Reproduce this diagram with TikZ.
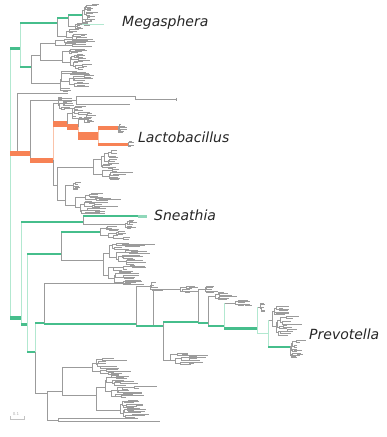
\documentclass[tikz,border=0pt]{standalone}
\usepackage{fontspec}
\setsansfont{DejaVu Sans}
\definecolor{tg}{RGB}{155,155,155}
\definecolor{gk}{RGB}{70,190,140}
\definecolor{gl}{RGB}{178,232,208}
\definecolor{ok}{RGB}{247,130,85}
\definecolor{ol}{RGB}{250,195,170}
\tikzset{
  br/.style={draw=tg,line width=0.5pt},
  lgv/.style={draw=gl,line width=0.8pt},
  olv/.style={draw=ol,line width=0.8pt},
  gkb/.style={draw=gk,line width=#1},
  gkb/.default=1.5pt,
  okb/.style={draw=ok,line width=#1},
  okb/.default=5pt,
  lab/.style={anchor=west,inner sep=0pt,text=black!85,font=\sffamily\itshape\fontsize{14}{16}\selectfont}
}
% random clade: #1 x of root, #2 top y, #3 bottom y, #4 depth, #5 branch scale
\newcommand\rclade[5]{%
  \begingroup
  \pgfmathsetmacro\rcH{#3-#2}%
  \def\rcLeaf{0}%
  \ifnum#4<1 \def\rcLeaf{1}\fi
  \ifdim\rcH pt<1.8pt \def\rcLeaf{1}\fi
  \if1\rcLeaf
    \pgfmathsetmacro\rcL{#5*(0.25+1.4*rnd*rnd)}%
    \pgfmathsetmacro\rcY{(#2+#3)/2}%
    \draw[br] (#1,\rcY) -- ++(\rcL,0);
  \else
    \pgfmathsetmacro\rcS{#2+\rcH*(0.2+0.6*rnd)}%
    \pgfmathsetmacro\rcYa{(#2+\rcS)/2}%
    \pgfmathsetmacro\rcYb{(\rcS+#3)/2}%
    \pgfmathsetmacro\rcXa{#1+#5*(0.05+1.0*rnd*rnd)}%
    \pgfmathsetmacro\rcXb{#1+#5*(0.05+1.0*rnd*rnd)}%
    \pgfmathtruncatemacro\rcD{#4-1}%
    \draw[br] (\rcXa,\rcYa) -| (#1,\rcYb) -- (\rcXb,\rcYb);
    \edef\rcNext{\noexpand\rclade{\rcXa}{#2}{\rcS}{\rcD}{#5}\noexpand\rclade{\rcXb}{\rcS}{#3}{\rcD}{#5}}%
    \rcNext
  \fi
  \endgroup
}
\begin{document}
\begin{tikzpicture}[x=1pt,y=-1pt]
\useasboundingbox (0,0) rectangle (387,437);
\pgfmathsetseed{11}
% ---------- top clade (Megasphera) ----------
\draw[lgv] (10,48) -- (10,318);
\draw[lgv] (20,23) -- (20,67);
\draw[br] (57,18) -- (57,36);
\draw[br] (68,15) -- (68,26);
\rclade{82}{4}{26}{5}{7}
\draw[br] (68,26) -- (75,26); \rclade{75}{23}{29}{3}{6}
\draw[br] (57,36) -- (66,36); \rclade{66}{29}{41}{4}{9}
\draw[gl,line width=1pt] (82,24) -- (104,24);
\draw[gkb=3pt] (10,48) -- (20,48);
\draw[gkb] (20,23) -- (57,23);
\draw[gkb] (57,18) -- (68,18);
\draw[gkb=2pt] (68,15) -- (82,15);
\draw[br] (31,55) -- (31,83);
\draw[br] (31,55) -- (40,55);
\draw[br] (40,43) -- (40,60);
\draw[br] (40,43) -- (55,43); \rclade{55}{38}{47}{3}{22}
\draw[br] (40,60) -- (62,60); \rclade{62}{48}{70}{5}{11}
\draw[br] (31,83) -- (60,83); \rclade{60}{71}{92}{5}{12}
\draw[gkb] (20,67) -- (31,67);
% ---------- between ----------
\draw[br] (17,93) -- (17,153);
\draw[br] (17,93) -- (68,93);
\draw[br] (30,100) -- (30,160);
\draw[br] (30,100) -- (76,100);
\draw[br] (76,96) -- (76,104);
\draw[br] (76,96) -- (135,96);
\draw[br] (135,96) -- (135,99) -- (176,99);
\draw[br] (176,97.5) -- (176,100.5);
\draw[br] (76,104) -- (130,104);
% ---------- Lactobacillus ----------
\draw[br] (53,103) -- (53,124);
\draw[br] (53,160) -- (53,185);
\draw[br] (53,103) -- (58,103); \rclade{58}{97}{110}{4}{8}
\draw[br] (67,113) -- (67,124);
\draw[br] (67,113) -- (72,113); \rclade{72}{106}{120}{4}{8}
\draw[br] (78,118) -- (78,127);
\draw[br] (78,118) -- (84,118); \rclade{84}{113}{123}{3}{6}
\rclade{118}{124}{133}{3}{6}
\rclade{128}{141}{147}{2}{5}
\draw[br] (53,185) -- (57,185);
\draw[br] (57,167) -- (57,200);
\draw[br] (57,167) -- (93,167); \rclade{93}{149}{180}{5}{11}
\draw[br] (57,200) -- (65,200);
\draw[br] (65,185) -- (65,205);
\draw[br] (65,185) -- (73,185); \rclade{73}{181}{190}{3}{6}
\draw[br] (65,205) -- (75,205); \rclade{75}{193}{214}{5}{15}
\draw[olv] (53,124) -- (53,160);
\draw[olv] (78,127) -- (78,136);
\draw[olv] (98,128) -- (98,144);
\draw[okb=5pt] (10,153) -- (30,153);
\draw[okb=5pt] (30,160) -- (53,160);
\draw[okb=6pt] (53,124) -- (67,124);
\draw[okb=6pt] (67,127) -- (78,127);
\draw[okb=8pt] (78,136) -- (98,136);
\draw[okb=4pt] (98,128) -- (118,128);
\draw[okb=3pt] (98,144) -- (128,144);
% ---------- Sneathia and neighbours ----------
\draw[lgv] (21,222) -- (21,324);
\draw[br] (83,216) -- (83,224);
\draw[br] (83,224) -- (125,224); \rclade{125}{220}{229}{3}{6}
\draw[lgv] (27,254) -- (27,352);
\draw[br] (61,232) -- (61,260);
\rclade{100}{226}{240}{4}{11}
\draw[br] (61,260) -- (103,260); \rclade{103}{242}{285}{6}{13}
\draw[gkb] (21,222) -- (83,222);
\draw[gkb=2pt] (83,216) -- (138,216);
\fill[gk!60!white] (138,214.5) rectangle (147,217.5);
\draw[gkb] (27,254) -- (61,254);
\draw[gkb] (61,232) -- (100,232);
% ---------- Prevotella side ----------
\draw[br] (35,352) -- (35,393);
\draw[br] (44,283) -- (44,324);
\draw[br] (44,283) -- (125,283); \rclade{125}{279}{285}{2}{6}
\draw[br] (136,286) -- (136,326);
\draw[br] (136,286) -- (150,286); \rclade{150}{282}{291}{3}{8}
\draw[br] (153,289) -- (153,326);
\draw[br] (153,289) -- (180,289); \rclade{180}{285}{293}{3}{8}
\draw[br] (163,322) -- (163,360);
\draw[br] (163,360) -- (170,360); \rclade{170}{353}{365}{4}{16}
\draw[br] (198,289) -- (198,322);
\draw[br] (198,289) -- (205,289); \rclade{205}{285}{293}{3}{9}
\draw[br] (208,296) -- (208,326);
\draw[br] (208,296) -- (215,296); \rclade{215}{292}{300}{3}{10}
\draw[br] (224,303) -- (235,303); \rclade{235}{299}{306}{3}{7}
\draw[br] (257,307) -- (260,307); \rclade{260}{303}{312}{3}{4}
\draw[br] (268,320) -- (272,320); \rclade{272}{306}{336}{5}{9}
\rclade{290}{339}{358}{4}{6}
\draw[lgv] (35,323) -- (35,352);
\draw[lgv] (224,303) -- (224,328);
\draw[lgv] (257,307) -- (257,333);
\draw[lgv] (257,333) -- (268,333);
\draw[lgv] (268,320) -- (268,347);
\draw[gkb=4pt] (10,318) -- (21,318);
\draw[gkb=3pt] (21,324) -- (27,324);
\draw[gkb=2pt] (27,352) -- (35,352);
\draw[gkb] (35,323) -- (44,323);
\draw[gkb=2pt] (44,324) -- (136,324);
\draw[gkb=2pt] (136,326) -- (153,326);
\draw[gkb] (153,326) -- (163,326);
\draw[gkb=2.5pt] (163,322) -- (198,322);
\draw[gkb] (198,323) -- (208,323);
\draw[gkb] (208,326) -- (224,326);
\draw[gkb=3pt] (224,328) -- (257,328);
\draw[gkb=1.2pt] (268,347) -- (290,347);
% ---------- bottom clade ----------
\draw[br] (35,393) -- (47,393);
\draw[br] (47,391) -- (47,420);
\draw[br] (47,391) -- (62,391);
\draw[br] (62,367) -- (62,395);
\draw[br] (62,367) -- (92,367); \rclade{92}{358}{375}{4}{16}
\draw[br] (62,395) -- (96,395);
\draw[br] (96,387) -- (96,410);
\draw[br] (96,387) -- (105,387); \rclade{105}{375}{398}{5}{14}
\draw[br] (96,410) -- (120,410); \rclade{120}{400}{418}{5}{13}
\draw[br] (47,420) -- (58,420);
\draw[br] (58,418) -- (58,421);
\draw[br] (58,418) -- (133,418);
\draw[br] (58,421) -- (160,421);
% ---------- scale bar ----------
\draw[draw=tg!60,line width=0.4pt] (10,416) -- (10,419) -- (24,419) -- (24,416);
\node[inner sep=0pt,text=tg!80,font=\sffamily\fontsize{4}{4}\selectfont] (sb) at (16,414) {0.1};
% ---------- labels ----------
\node[lab] (meg) at (122,23) {Megasphera};
\node[lab] (lac) at (138,137) {Lactobacillus};
\node[lab] (sne) at (154,215) {Sneathia};
\node[lab] (pre) at (309,334) {Prevotella};
\end{tikzpicture}
\end{document}
